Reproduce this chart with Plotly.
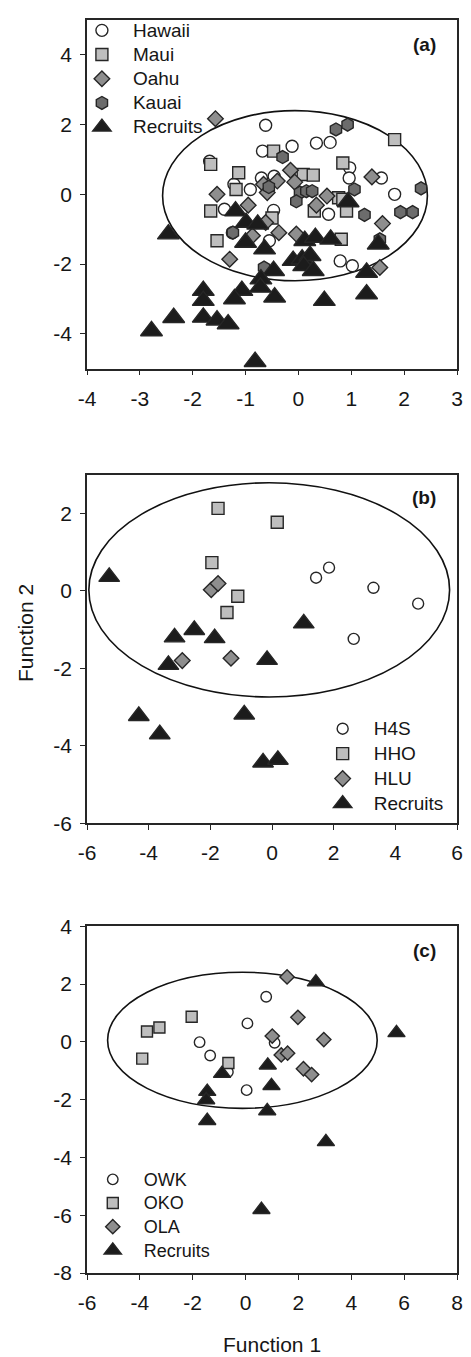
import plotly.graph_objects as go

# ---------------- Panel (a) data ----------------
hawaii_x = [-0.62, -1.68, -0.68, -0.12, 0.34, 0.60, 0.97, 0.96, 1.57, 1.82, -1.22, -0.91, -0.70, -0.46, -0.47, -1.40, 0.57, -1.25, -0.55, 0.79, 1.02]
hawaii_y = [1.98, 0.95, 1.24, 1.38, 1.47, 1.49, 0.76, 0.47, 0.47, 0.00, 0.29, 0.14, 0.47, 0.52, -0.46, -0.43, -0.57, -1.10, -1.33, -1.91, -2.05]
maui_x = [-1.66, -1.13, -0.47, 1.82, 0.84, -1.18, 0.09, 0.28, 0.76, 0.84, 0.91, 0.30, -0.50, -1.66, -1.54, 0.81]
maui_y = [0.86, 0.62, 1.24, 1.57, 0.90, 0.14, 0.57, 0.55, -0.10, -0.14, -0.48, -0.48, -0.68, -0.48, -1.33, -1.29]
oahu_x = [-1.57, -0.66, -0.40, -0.15, -0.07, -0.59, 1.39, 0.54, 1.59, 0.34, -0.95, -0.62, -0.87, -0.37, -0.04, 1.54, -1.30, -1.54]
oahu_y = [2.17, 0.29, 0.38, 0.69, 0.35, 0.05, 0.50, -0.05, -0.84, -0.31, -0.31, -0.81, -1.19, -1.10, -1.14, -2.10, -1.86, 0.00]
kauai_x = [-0.30, 0.71, 0.93, 1.06, 2.32, -0.56, 0.03, 0.15, 0.26, -0.04, 1.93, 2.16, 1.25, -1.24, 1.54, -0.65]
kauai_y = [1.07, 1.86, 2.00, 0.14, 0.17, 0.21, 0.05, 0.09, 0.09, -0.20, -0.51, -0.51, -0.59, -1.10, -1.29, -2.10]
recruit_a_x = [0.94, -1.19, -0.99, -0.77, -2.46, -1.00, -0.64, 0.12, 0.32, 0.61, 1.51, -0.10, 0.07, 0.22, 0.10, 0.28, 1.29, 1.29, 0.49, -0.47, -0.71, -0.72, -0.45, -1.80, -1.80, -1.07, -1.21, -2.36, -1.80, -1.54, -1.33, -2.78, -0.82]
recruit_a_y = [-0.22, -0.48, -0.81, -0.86, -1.14, -1.38, -1.57, -1.33, -1.24, -1.29, -1.43, -1.90, -1.86, -1.76, -2.05, -2.19, -2.24, -2.86, -3.05, -2.19, -2.43, -2.67, -2.95, -2.76, -3.05, -2.76, -3.00, -3.54, -3.53, -3.61, -3.72, -3.92, -4.80]

# ---------------- Panel (b) data ----------------
h4s_x = [1.43, 1.85, 3.29, 4.74, 2.65]
h4s_y = [0.34, 0.60, 0.08, -0.33, -1.24]
hho_x = [-1.75, 0.17, -1.95, -1.11, -1.46]
hho_y = [2.13, 1.77, 0.73, -0.14, -0.56]
hlu_x = [-1.97, -1.75, -2.91, -1.33]
hlu_y = [0.03, 0.19, -1.80, -1.74]
recruit_b_x = [-5.28, 1.03, -2.52, -3.16, -1.86, -3.36, -0.16, -4.32, -3.64, -0.90, -0.29, 0.19]
recruit_b_y = [0.36, -0.84, -1.01, -1.20, -1.22, -1.91, -1.78, -3.23, -3.70, -3.19, -4.43, -4.36]

# ---------------- Panel (c) data ----------------
owk_x = [0.78, 0.07, -1.74, -1.34, 1.10, -0.67, 0.04]
owk_y = [1.56, 0.64, -0.01, -0.47, -0.03, -1.04, -1.67]
oko_x = [-3.73, -3.26, -2.04, -3.91, -0.65]
oko_y = [0.36, 0.50, 0.87, -0.58, -0.73]
ola_x = [1.57, 1.98, 1.01, 2.96, 1.35, 1.59, 2.19, 2.50]
ola_y = [2.25, 0.85, 0.20, 0.08, -0.45, -0.39, -0.93, -1.13]
recruit_c_x = [2.66, 5.71, 0.84, -0.89, 0.98, -1.45, -1.49, 0.82, -1.45, 3.04, 0.60]
recruit_c_y = [2.07, 0.31, -0.81, -1.10, -1.52, -1.72, -2.01, -2.39, -2.73, -3.46, -5.81]

# ellipse bounds (x0, x1, y0, y1)
ellipse_a = [-2.57, 2.44, -2.48, 2.40]
ellipse_b = [-5.94, 5.76, -2.74, 2.79]
ellipse_c = [-5.22, 4.98, -2.30, 2.41]

# tick values / labels
xt_a = [-4, -3, -2, -1, 0, 1, 2, 3]
yt_a = [-4, -2, 0, 2, 4]
xt_b = [-6, -4, -2, 0, 2, 4, 6]
yt_b = [-6, -4, -2, 0, 2]
xt_c = [-6, -4, -2, 0, 2, 4, 6, 8]
yt_c = [-8, -6, -4, -2, 0, 2, 4]

def lab(v):
    return [str(t) for t in v]

FONT = "Arial, Liberation Sans, sans-serif"
EDGE = "#262626"
C_WHITE = "#ffffff"
C_LIGHT = "#bebebe"
C_MID = "#8e8e8e"
C_DARK = "#6c6c6c"
C_BLACK = "#1c1c1c"

fig = go.Figure()

def add(x, y, name, symbol, color, size, xa, ya, legend, tsize):
    fig.add_trace(go.Scatter(
        x=x, y=y, mode="markers", xaxis=xa, yaxis=ya, legend=legend,
        name='<span style="font-size:%dpx">%s</span>' % (tsize, name),
        marker=dict(symbol=symbol, color=color, size=size,
                    line=dict(color=EDGE, width=1.4)),
    ))

add(hawaii_x, hawaii_y, "Hawaii", "circle", C_WHITE, 12, "x", "y", "legend", 19)
add(maui_x, maui_y, "Maui", "square", C_LIGHT, 12, "x", "y", "legend", 19)
add(oahu_x, oahu_y, "Oahu", "diamond", C_MID, 12, "x", "y", "legend", 19)
add(kauai_x, kauai_y, "Kauai", "hexagon", C_DARK, 13, "x", "y", "legend", 19)
add(recruit_a_x, recruit_a_y, "Recruits", "triangle-up", C_BLACK, 19, "x", "y", "legend", 19)

add(h4s_x, h4s_y, "H4S", "circle", C_WHITE, 11, "x2", "y2", "legend2", 19)
add(hho_x, hho_y, "HHO", "square", C_LIGHT, 12, "x2", "y2", "legend2", 19)
add(hlu_x, hlu_y, "HLU", "diamond", C_MID, 12, "x2", "y2", "legend2", 19)
add(recruit_b_x, recruit_b_y, "Recruits", "triangle-up", C_BLACK, 18, "x2", "y2", "legend2", 19)

add(owk_x, owk_y, "OWK", "circle", C_WHITE, 10.5, "x3", "y3", "legend3", 18)
add(oko_x, oko_y, "OKO", "square", C_LIGHT, 11, "x3", "y3", "legend3", 18)
add(ola_x, ola_y, "OLA", "diamond", C_MID, 11, "x3", "y3", "legend3", 18)
add(recruit_c_x, recruit_c_y, "Recruits", "triangle-up", C_BLACK, 15, "x3", "y3", "legend3", 18)

for e, xr, yr in [(ellipse_a, "x", "y"), (ellipse_b, "x2", "y2"), (ellipse_c, "x3", "y3")]:
    fig.add_shape(type="circle", xref=xr, yref=yr, x0=e[0], x1=e[1], y0=e[2], y1=e[3],
                  line=dict(color="#111111", width=1.6), layer="below")

# geometry: plot area px 87..462 horizontally, 8..1273 vertically
H_AREA = 1265.0
def py2p(py):
    return (1273.0 - py) / H_AREA

def axis_common(tv, rng, domain, anchor, is_x):
    d = dict(range=rng, tickvals=tv, ticktext=lab(tv), showgrid=False, zeroline=False,
             showline=True, mirror=True, linecolor=EDGE, linewidth=1.5,
             ticks="outside", ticklen=5, tickwidth=1.3, tickcolor=EDGE,
             tickfont=dict(family=FONT, size=21, color="#161616"),
             anchor=anchor, domain=domain, fixedrange=True)
    d["ticklabelstandoff"] = 5 if is_x else 4
    return d

fig.update_layout(
    xaxis=axis_common(xt_a, [-4, 3], [0, 1], "y", True),
    yaxis=axis_common(yt_a, [-5, 5], [py2p(360), py2p(8)], "x", False),
    xaxis2=axis_common(xt_b, [-6, 6], [0, 1], "y2", True),
    yaxis2=axis_common(yt_b, [-6, 3], [py2p(819), py2p(467)], "x2", False),
    xaxis3=axis_common(xt_c, [-6, 8], [0, 1], "y3", True),
    yaxis3=axis_common(yt_c, [-8, 4], [py2p(1273), py2p(923)], "x3", False),
)

def legend_at(px_left, py_first, fsize):
    # first item centre = top + 5 + h/2, h = 1.3*fsize + 3
    h = 1.3 * fsize + 3
    top = py_first - 5 - h / 2
    return dict(x=(px_left - 87.0) / 375.0, y=py2p(top), xanchor="left", yanchor="top",
                xref="paper", yref="paper", bgcolor="rgba(0,0,0,0)", borderwidth=0,
                font=dict(family=FONT, size=fsize, color="#161616"), itemwidth=52,
                tracegroupgap=0)

fig.update_layout(
    legend=legend_at(70.7, 18.3, 16.3),
    legend2=legend_at(314.7, 723.3, 16.9),
    legend3=legend_at(81.7, 1178.3, 15.9),
)

annos = [
    dict(text="<b>(a)</b>", x=(443 - 87) / 375.0, y=py2p(33), xanchor="right", yanchor="middle"),
    dict(text="<b>(b)</b>", x=(443 - 87) / 375.0, y=py2p(490), xanchor="right", yanchor="middle"),
    dict(text="<b>(c)</b>", x=(443 - 87) / 375.0, y=py2p(947), xanchor="right", yanchor="middle"),
]
for a in annos:
    fig.add_annotation(xref="paper", yref="paper", showarrow=False,
                       font=dict(family=FONT, size=19, color="#161616"), **a)

fig.add_annotation(text="Function 1", xref="paper", yref="paper", x=0.5, y=py2p(1345),
                   xanchor="center", yanchor="middle", showarrow=False,
                   font=dict(family=FONT, size=21, color="#161616"))
fig.add_annotation(text="Function 2", xref="paper", yref="paper", x=(24 - 87) / 375.0, y=py2p(627),
                   xanchor="center", yanchor="middle", textangle=-90, showarrow=False,
                   font=dict(family=FONT, size=21, color="#161616"))

fig.update_layout(
    width=471, height=1357, autosize=False,
    margin=dict(l=87, r=9, t=8, b=84, pad=0),
    paper_bgcolor="white", plot_bgcolor="white",
    showlegend=True,
)

fig.write_html("out.html", config={"displayModeBar": False},
               post_script="document.body.style.margin='0px';document.body.style.padding='0px';document.body.style.overflow='hidden';")
